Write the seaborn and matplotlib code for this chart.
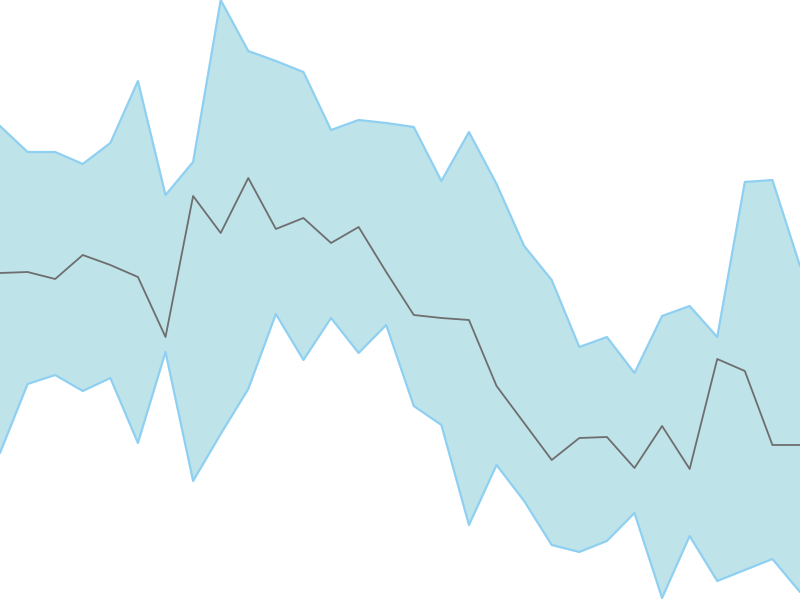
import numpy as np
import pandas as pd
import matplotlib
matplotlib.use("Agg")
import matplotlib.pyplot as plt
import seaborn as sns

x = list(range(30))
upper = [474, 448, 448, 436, 457, 519, 405, 438, 600, 549, 539, 528, 470, 480, 477, 473, 419, 468, 416, 354,
         320, 253, 263, 227, 284, 294, 263, 418, 420, 334]
middle = [327, 328, 321, 345, 335, 323, 263, 404, 367, 422, 371, 382, 357, 373, 328, 285, 282, 280, 214, 177,
          140, 162, 163, 132, 174, 131, 241, 229, 155, 155]
lower = [147, 216, 225, 209, 222, 157, 248, 119, 166, 211, 286, 240, 282, 247, 275, 194, 175, 75, 135, 99,
         55, 48, 59, 87, 2, 64, 19, 30, 41, 8]

df = pd.DataFrame({"x": x, "upper": upper, "middle": middle, "lower": lower})

sns.set_style("white")
fig = plt.figure(figsize=(8, 6), dpi=100)
ax = fig.add_axes([0, 0, 1, 1])
ax.fill_between(df["x"], df["lower"], df["upper"], color="#bee3e9", linewidth=0, zorder=1)
sns.lineplot(data=df, x="x", y="upper", ax=ax, color="#8fd0f2", linewidth=1.6, zorder=2)
sns.lineplot(data=df, x="x", y="lower", ax=ax, color="#8fd0f2", linewidth=1.6, zorder=2)
sns.lineplot(data=df, x="x", y="middle", ax=ax, color="#6e6e6e", linewidth=1.3, zorder=3)
ax.set_xlim(0, 29)
ax.set_ylim(0, 600)
ax.axis("off")
fig.savefig("out.png", dpi=100)
